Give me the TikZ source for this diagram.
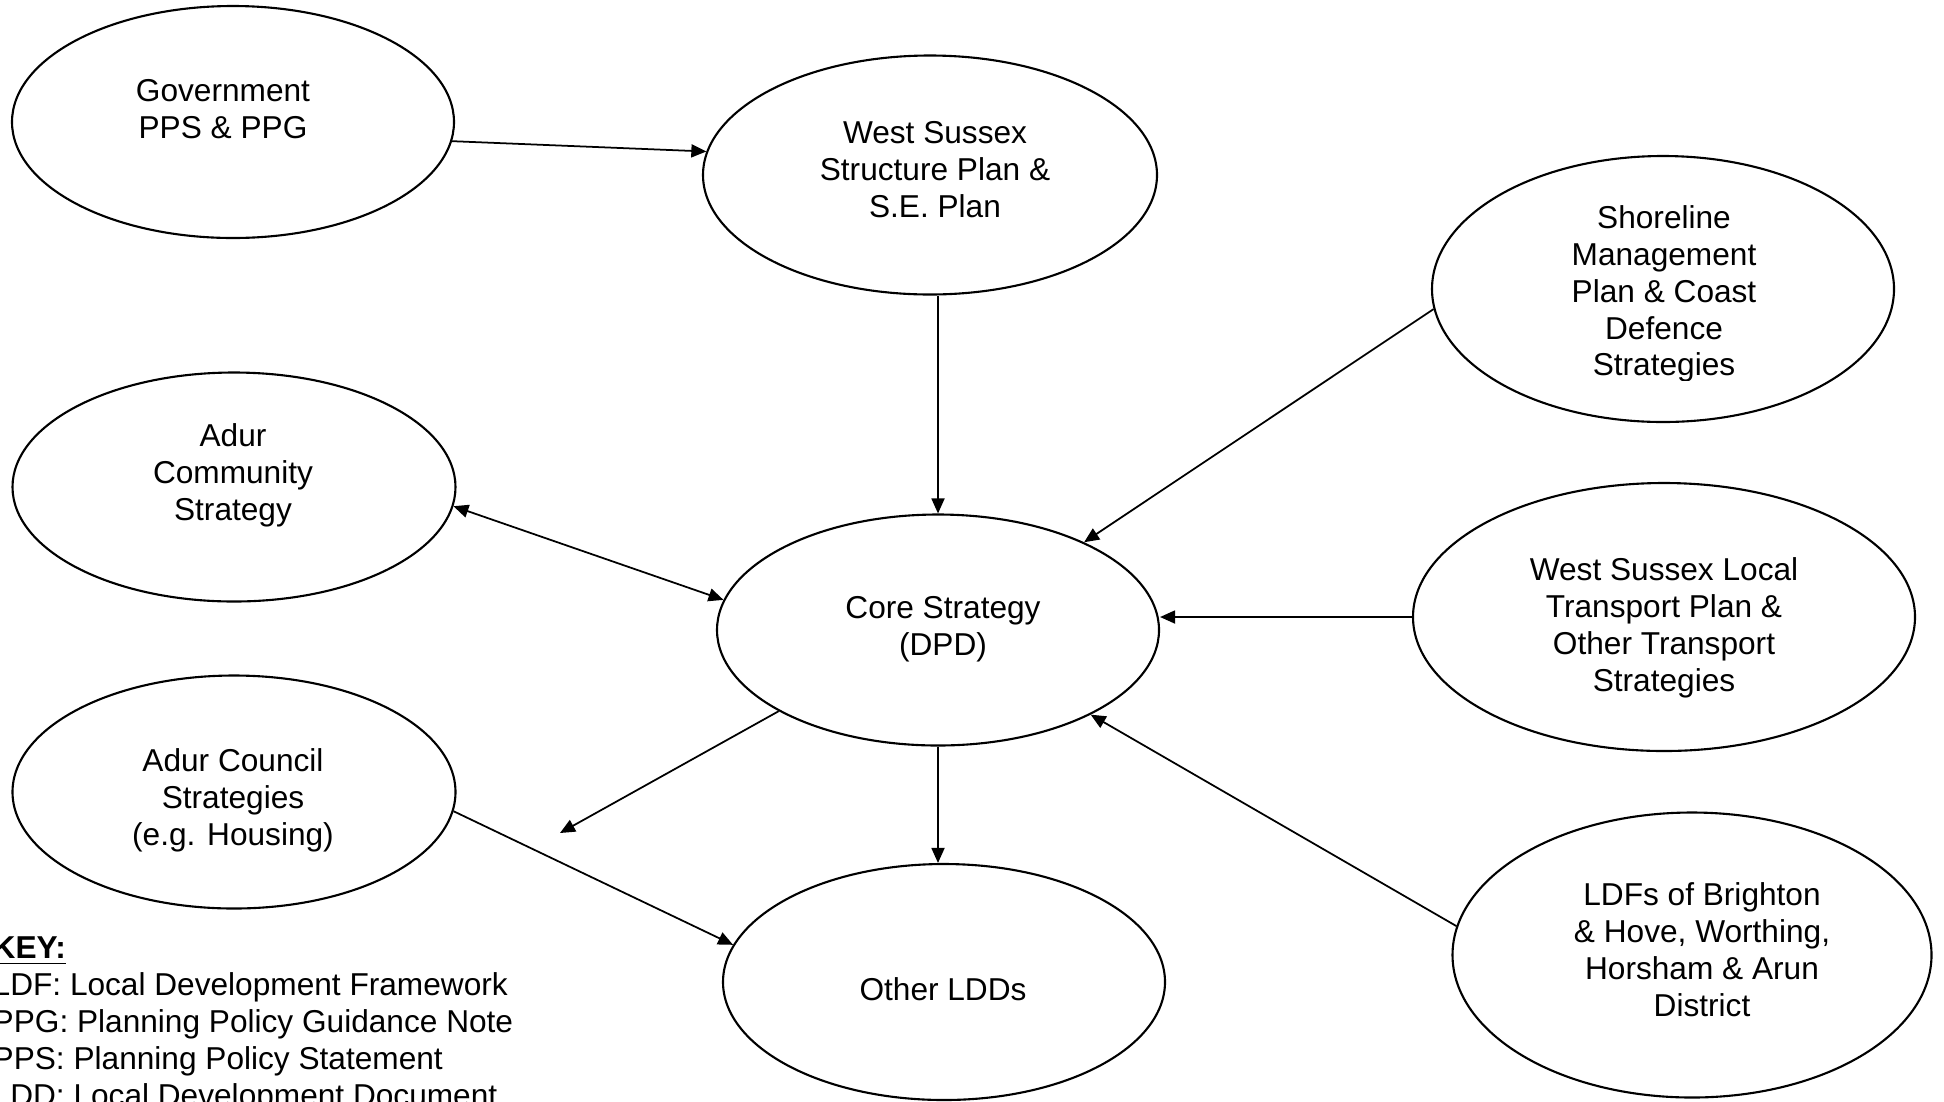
\documentclass[tikz,border=0pt]{standalone}
\usepackage{fontspec}
\setmainfont{Liberation Sans}
\usetikzlibrary{shapes.geometric,arrows.meta}

\begin{document}
\begin{tikzpicture}[x=0.1mm,y=-0.1mm,
		bubble/.style={ellipse,draw,line width=0.6pt,inner sep=0pt},
		lbl/.style={align=center,inner sep=0pt,font=\fontsize{9}{10.5}\selectfont},
		arr/.style={-{Triangle[length=1.5mm,width=1.3mm]},line width=0.5pt},
		arrboth/.style={{Triangle[length=1.5mm,width=1.3mm]}-{Triangle[length=1.5mm,width=1.3mm]},line width=0.5pt}]
		\clip (0,0) rectangle (1944,1101);

		% Documents (ellipses)
		\node[bubble,minimum width=44.2mm,minimum height=23.2mm] (gov)       at (233,122)  {};
		\node[bubble,minimum width=45.4mm,minimum height=23.9mm] (wssp)      at (930,175)  {};
		\node[bubble,minimum width=46.2mm,minimum height=26.6mm] (shore)     at (1663,289) {};
		\node[bubble,minimum width=44.3mm,minimum height=22.9mm] (adurcom)   at (234,487)  {};
		\node[bubble,minimum width=44.2mm,minimum height=23.1mm] (core)      at (938,630)  {};
		\node[bubble,minimum width=50.2mm,minimum height=26.8mm] (transport) at (1664,617) {};
		\node[bubble,minimum width=44.3mm,minimum height=23.3mm] (adurcoun)  at (234,792)  {};
		\node[bubble,minimum width=44.2mm,minimum height=23.6mm] (other)     at (944,982)  {};
		\node[bubble,minimum width=47.9mm,minimum height=28.5mm] (ldf)       at (1692,955) {};
		\coordinate (stub) at (560,833);

		% Texts
		\node[lbl] (govtxt)       at (223,109)  {Government\\PPS \& PPG};
		\node[lbl] (wssptxt)      at (935,170)  {West Sussex\\Structure Plan \&\\S.E. Plan};
		\begin{scope}
			\clip (1400,150) rectangle (1900,380);
			\node[lbl] (shoretxt) at (1664,294) {Shoreline\\Management\\Plan \& Coast\\Defence\\Strategies};
		\end{scope}
		\node[lbl] (adurcomtxt)   at (233,475)  {Adur\\Community\\Strategy};
		\node[lbl] (coretxt)      at (943,629)  {Core Strategy\\(DPD)};
		\node[lbl] (transporttxt) at (1664,628) {West Sussex Local\\Transport Plan \&\\Other Transport\\Strategies};
		\node[lbl] (adurcountxt)  at (233,800)  {Adur Council\\Strategies\\(e.g. Housing)};
		\node[lbl] (othertxt)     at (943,989)  {Other LDDs};
		\node[lbl] (ldftxt)       at (1702,950) {LDFs of Brighton\\\& Hove, Worthing,\\Horsham \& Arun\\District};

		% Key
		\node[lbl,align=left,anchor=north west] (key) at (-8,936)
			{\underline{\textbf{KEY:}}\\LDF: Local Development Framework\\PPG: Planning Policy Guidance Note\\PPS: Planning Policy Statement\\LDD: Local Development Document};

		% Links
		\draw[arr] (gov.-5) -- (wssp.174);
		\draw[arr] (core.north |- wssp.south) -- (core.north);
		\draw[arr] (shore.185) -- (core.31);
		\draw[arrboth] (adurcom.-5) -- (core.172);
		\draw[arr] (transport.west) -- (transport.west -| core.east);
		\draw[arr] (core.207) -- (stub);
		\draw[arr] (core.south) -- (core.south |- other.north);
		\draw[arr] (adurcoun.-5) -- (other.170);
		\draw[arr] (ldf.173) -- (core.-29);
	\end{tikzpicture}
\end{document}
